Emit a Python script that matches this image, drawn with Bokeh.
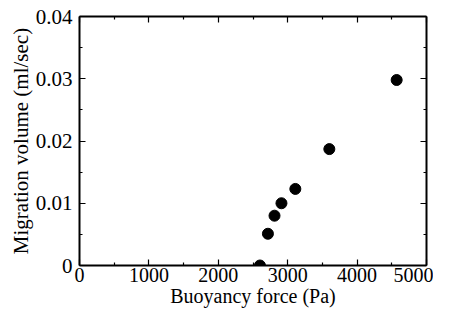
from bokeh.plotting import figure
from bokeh.models import LinearAxis, FixedTicker, Range1d
from bokeh.embed import file_html
from bokeh.resources import INLINE

buoyancy_pa = [2600, 2715, 2810, 2910, 3110, 3600, 4570]
migration_ml_s = [0.0, 0.0051, 0.0080, 0.0100, 0.0123, 0.0187, 0.0298]

x_ticks = [0, 1000, 2000, 3000, 4000, 5000]
x_tick_labels = ["0", "1000", "2000", "3000", "4000", "5000"]
x_minor = [500, 1500, 2500, 3500, 4500]
y_ticks = [0, 0.01, 0.02, 0.03, 0.04]
y_tick_labels = ["0", "0.01", "0.02", "0.03", "0.04"]
y_minor = [0.005, 0.015, 0.025, 0.035]

FONT = "Liberation Serif"

p = figure(width=433, height=309, output_backend="svg", toolbar_location=None,
           x_range=Range1d(0, 5000), y_range=Range1d(0, 0.04),
           x_axis_label="Buoyancy force (Pa)", y_axis_label="Migration volume (ml/sec)",
           min_border_left=79, min_border_right=7, min_border_top=16, min_border_bottom=44)
p.grid.visible = False
p.outline_line_color = None

def style(ax, ticks, minor, labels, show_labels, fs="20px"):
    ax.ticker = FixedTicker(ticks=ticks, minor_ticks=minor)
    ax.major_tick_in = 6
    ax.major_tick_out = 0
    ax.minor_tick_in = 3
    ax.minor_tick_out = 0
    ax.axis_line_width = 2
    ax.axis_line_color = "black"
    ax.major_tick_line_color = "black"
    ax.minor_tick_line_color = "black"
    ax.major_tick_line_width = 1.2
    ax.minor_tick_line_width = 1.2
    ax.major_label_text_font = FONT
    ax.major_label_text_font_size = fs
    ax.major_label_text_color = "black"
    ax.axis_label_text_font = FONT
    ax.axis_label_text_font_size = fs
    ax.axis_label_text_font_style = "normal"
    ax.axis_label_text_color = "black"
    if show_labels:
        ax.major_label_overrides = {t: l for t, l in zip(ticks, labels)}
    else:
        ax.major_label_text_font_size = "0px"
        ax.major_label_text_alpha = 0

style(p.xaxis[0], x_ticks, x_minor, x_tick_labels, True, "20px")
style(p.yaxis[0], y_ticks, y_minor, y_tick_labels, True, "21px")
p.xaxis[0].major_label_standoff = 2
p.xaxis[0].axis_label_standoff = 0
p.yaxis[0].major_label_standoff = 7
p.yaxis[0].axis_label_standoff = 0

top = LinearAxis()
style(top, x_ticks, x_minor, x_tick_labels, False)
right = LinearAxis()
style(right, y_ticks, y_minor, y_tick_labels, False)
top.major_label_standoff = 0
right.major_label_standoff = 0
p.add_layout(top, "above")
p.add_layout(right, "right")

p.scatter(buoyancy_pa, migration_ml_s, size=11, color="black")

open("out.html", "w").write(file_html(p, INLINE))
